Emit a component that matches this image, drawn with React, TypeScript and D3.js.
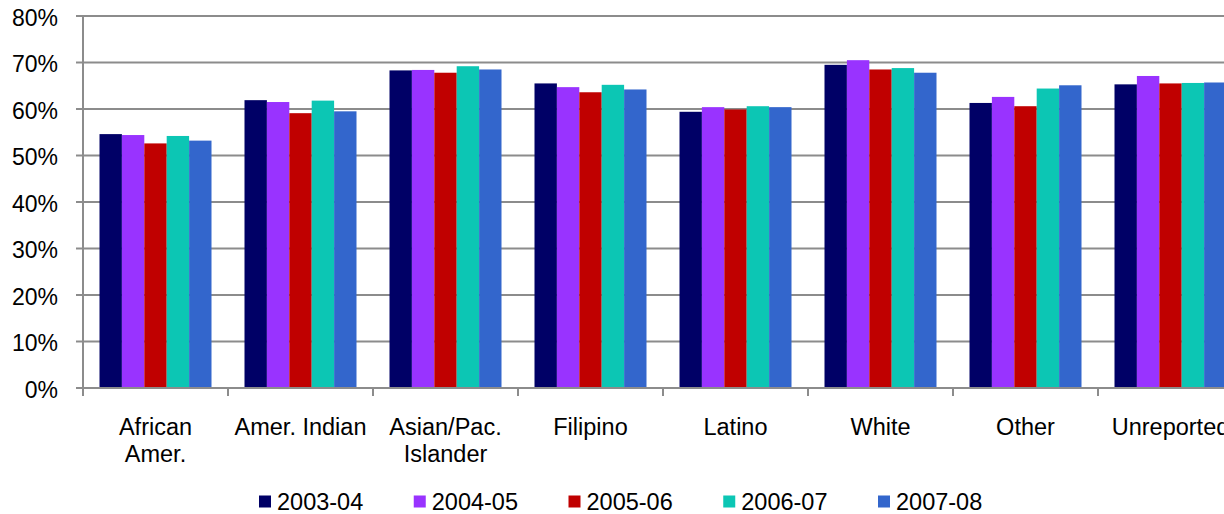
import React from "react";
import * as d3 from "d3";

const categories = ["African Amer.", "Amer. Indian", "Asian/Pac. Islander", "Filipino", "Latino", "White", "Other", "Unreported"];
const categoryLines = [["African", "Amer."], ["Amer. Indian"], ["Asian/Pac.", "Islander"], ["Filipino"], ["Latino"], ["White"], ["Other"], ["Unreported"]];
const seriesNames = ["2003-04", "2004-05", "2005-06", "2006-07", "2007-08"];
const seriesColors = ["#000066", "#9933FF", "#C00000", "#0CC6B4", "#3366CC"];

const v2003 = [54.6, 61.9, 68.3, 65.5, 59.4, 69.5, 61.3, 65.3];
const v2004 = [54.4, 61.5, 68.4, 64.7, 60.4, 70.5, 62.6, 67.1];
const v2005 = [52.6, 59.1, 67.8, 63.6, 59.9, 68.5, 60.6, 65.5];
const v2006 = [54.2, 61.8, 69.2, 65.2, 60.6, 68.8, 64.4, 65.6];
const v2007 = [53.2, 59.5, 68.5, 64.2, 60.4, 67.8, 65.1, 65.7];
const seriesValues = [v2003, v2004, v2005, v2006, v2007];

const yTicks = [0, 10, 20, 30, 40, 50, 60, 70, 80];

const W = 1224;
const H = 514;
const left = 83;
const top = 16;
const bottom = 388;
const plotRight = 1243;
const font = "'Liberation Sans', Arial, sans-serif";
const gridColor = "#8c8c8c";

export default function App() {
  const x0 = d3.scaleBand<string>().domain(categories).range([left, plotRight]).padding(0);
  const groupW = 112;
  const x1 = d3.scaleBand<string>().domain(seriesNames).range([0, groupW]).padding(0);
  const off = (x0.bandwidth() - groupW) / 2;
  const y = d3.scaleLinear().domain([0, 80]).range([bottom, top]);

  const legend = d3.scalePoint<string>().domain(seriesNames).range([259, 878]);

  return (
    <svg width={W} height={H} style={{ position: "absolute", left: 0, top: 0, background: "#fff" }}>
      {yTicks.map((t) => (
        <g key={t}>
          {t > 0 && <line x1={left} x2={W} y1={y(t)} y2={y(t)} stroke={gridColor} strokeWidth={2} />}
          <line x1={left - 7} x2={left} y1={y(t)} y2={y(t)} stroke={gridColor} strokeWidth={2} />
          <text x={58} y={y(t) + 9.5} textAnchor="end" fontFamily={font} fontSize={23} fill="#000">
            {t}%
          </text>
        </g>
      ))}
      {categories.map((c, ci) => (
        <g key={c}>
          {seriesNames.map((s, si) => {
            const v = seriesValues[si][ci];
            return (
              <rect
                key={s}
                x={(x0(c) as number) + off + (x1(s) as number)}
                y={y(v)}
                width={x1.bandwidth()}
                height={y(0) - y(v)}
                fill={seriesColors[si]}
              />
            );
          })}
        </g>
      ))}
      <line x1={left} x2={left} y1={top} y2={bottom + 8} stroke={gridColor} strokeWidth={2} />
      <line x1={left} x2={W} y1={bottom} y2={bottom} stroke={gridColor} strokeWidth={2} />
      {categories.map((c, ci) => (
        <g key={"t" + c}>
          <line x1={(x0(c) as number) + x0.bandwidth()} x2={(x0(c) as number) + x0.bandwidth()} y1={bottom} y2={bottom + 8} stroke={gridColor} strokeWidth={2} />
          {categoryLines[ci].map((ln, li) => (
            <text
              key={li}
              x={(x0(c) as number) + x0.bandwidth() / 2}
              y={435 + li * 27}
              textAnchor="middle"
              fontFamily={font}
              fontSize={23.5}
              fill="#000"
            >
              {ln}
            </text>
          ))}
        </g>
      ))}
      {seriesNames.map((s, si) => (
        <g key={"l" + s}>
          <rect x={legend(s) as number} y={495.5} width={12} height={12} fill={seriesColors[si]} />
          <text x={(legend(s) as number) + 18} y={510} fontFamily={font} fontSize={23.5} fill="#000">
            {s}
          </text>
        </g>
      ))}
    </svg>
  );
}
